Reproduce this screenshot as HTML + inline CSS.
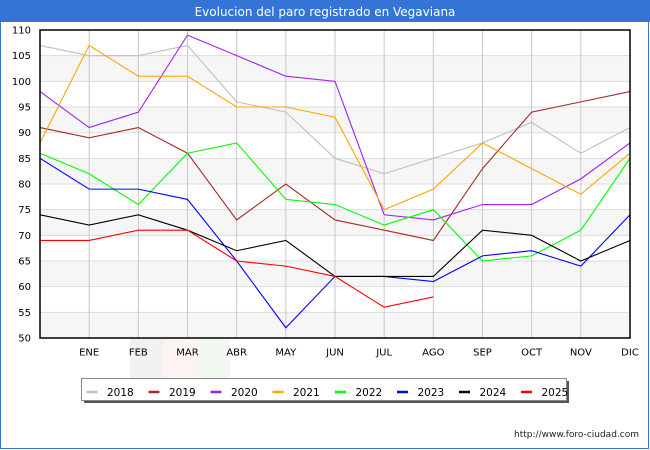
<!DOCTYPE html>
<html>
<head>
<meta charset="utf-8">
<style>
html,body{margin:0;padding:0;background:#fff;}
svg{display:block;}
text{font-family:"DejaVu Sans","Liberation Sans",sans-serif;}
</style>
</head>
<body>
<svg width="650" height="450" viewBox="0 0 650 450" xmlns="http://www.w3.org/2000/svg">
  <rect x="0" y="0" width="650" height="450" fill="#ffffff"/>
  <!-- frame -->
  <rect x="0.5" y="0.5" width="648" height="448" fill="none" stroke="#3474d6" stroke-width="1"/>
  <!-- title bar -->
  <rect x="0" y="0" width="650" height="22" fill="#3474d6"/>
  <text x="325" y="16" font-size="12" fill="#ffffff" text-anchor="middle">Evolucion del paro registrado en Vegaviana</text>

  <!-- watermark -->
  <rect x="130" y="338" width="33" height="40" fill="#f1f1f1"/>
  <rect x="163" y="338" width="34" height="40" fill="#fdf3f3"/>
  <rect x="197" y="338" width="33" height="40" fill="#f0f8f0"/>

  <!-- plot background bands -->
  <rect x="40" y="30" width="590" height="308" fill="#ffffff"/>
  <g fill="#f6f6f6">
    <rect x="40" y="55.67" width="590" height="25.67"/>
    <rect x="40" y="107" width="590" height="25.67"/>
    <rect x="40" y="158.33" width="590" height="25.67"/>
    <rect x="40" y="209.67" width="590" height="25.67"/>
    <rect x="40" y="261" width="590" height="25.67"/>
    <rect x="40" y="312.33" width="590" height="25.67"/>
  </g>
  <!-- horizontal grid -->
  <g stroke="#dcdcdc" stroke-width="1">
    <line x1="40" y1="55.67" x2="630" y2="55.67"/>
    <line x1="40" y1="81.33" x2="630" y2="81.33"/>
    <line x1="40" y1="107" x2="630" y2="107"/>
    <line x1="40" y1="132.67" x2="630" y2="132.67"/>
    <line x1="40" y1="158.33" x2="630" y2="158.33"/>
    <line x1="40" y1="184" x2="630" y2="184"/>
    <line x1="40" y1="209.67" x2="630" y2="209.67"/>
    <line x1="40" y1="235.33" x2="630" y2="235.33"/>
    <line x1="40" y1="261" x2="630" y2="261"/>
    <line x1="40" y1="286.67" x2="630" y2="286.67"/>
    <line x1="40" y1="312.33" x2="630" y2="312.33"/>
  </g>
  <!-- vertical grid -->
  <g stroke="#c8c8c8" stroke-width="1">
    <line x1="89.17" y1="30" x2="89.17" y2="338"/>
    <line x1="138.33" y1="30" x2="138.33" y2="338"/>
    <line x1="187.5" y1="30" x2="187.5" y2="338"/>
    <line x1="236.67" y1="30" x2="236.67" y2="338"/>
    <line x1="285.83" y1="30" x2="285.83" y2="338"/>
    <line x1="335" y1="30" x2="335" y2="338"/>
    <line x1="384.17" y1="30" x2="384.17" y2="338"/>
    <line x1="433.33" y1="30" x2="433.33" y2="338"/>
    <line x1="482.5" y1="30" x2="482.5" y2="338"/>
    <line x1="531.67" y1="30" x2="531.67" y2="338"/>
    <line x1="580.83" y1="30" x2="580.83" y2="338"/>
  </g>

  <!-- series -->
  <g fill="none" stroke-width="1.1" stroke-linejoin="miter">
    <polyline stroke="#c0c0c0" points="40,45.4 89.17,55.67 138.33,55.67 187.5,45.4 236.67,101.87 285.83,112.13 335,158.33 384.17,173.73 433.33,158.33 482.5,142.93 531.67,122.4 580.83,153.2 630,127.53"/>
    <polyline stroke="#a52a2a" points="40,127.53 89.17,137.8 138.33,127.53 187.5,153.2 236.67,219.93 285.83,184 335,219.93 384.17,230.2 433.33,240.47 482.5,168.6 531.67,112.13 580.83,101.87 630,91.6"/>
    <polyline stroke="#a020f0" points="40,91.6 89.17,127.53 138.33,112.13 187.5,35.13 236.67,55.67 285.83,76.2 335,81.33 384.17,214.8 433.33,219.93 482.5,204.53 531.67,204.53 580.83,178.87 630,142.93"/>
    <polyline stroke="#ffa500" points="40,142.93 89.17,45.4 138.33,76.2 187.5,76.2 236.67,107 285.83,107 335,117.27 384.17,209.67 433.33,189.13 482.5,142.93 531.67,168.6 580.83,194.27 630,153.2"/>
    <polyline stroke="#00ff00" points="40,153.2 89.17,173.73 138.33,204.53 187.5,153.2 236.67,142.93 285.83,199.4 335,204.53 384.17,225.07 433.33,209.67 482.5,261 531.67,255.87 580.83,230.2 630,158.33"/>
    <polyline stroke="#0000ff" points="40,158.33 89.17,189.13 138.33,189.13 187.5,199.4 236.67,261 285.83,327.73 335,276.4 384.17,276.4 433.33,281.53 482.5,255.87 531.67,250.73 580.83,266.13 630,214.8"/>
    <polyline stroke="#000000" points="40,214.8 89.17,225.07 138.33,214.8 187.5,230.2 236.67,250.73 285.83,240.47 335,276.4 384.17,276.4 433.33,276.4 482.5,230.2 531.67,235.33 580.83,261 630,240.47"/>
    <polyline stroke="#ff0000" points="40,240.47 89.17,240.47 138.33,230.2 187.5,230.2 236.67,261 285.83,266.13 335,276.4 384.17,307.2 433.33,296.93"/>
  </g>

  <!-- plot border -->
  <rect x="40" y="30" width="590" height="308" fill="none" stroke="#000000" stroke-width="1.5"/>

  <!-- y labels -->
  <g font-size="10" fill="#000" text-anchor="end">
    <text x="31" y="33.5">110</text>
    <text x="31" y="59.2">105</text>
    <text x="31" y="84.8">100</text>
    <text x="31" y="110.5">95</text>
    <text x="31" y="136.2">90</text>
    <text x="31" y="161.8">85</text>
    <text x="31" y="187.5">80</text>
    <text x="31" y="213.2">75</text>
    <text x="31" y="238.8">70</text>
    <text x="31" y="264.5">65</text>
    <text x="31" y="290.2">60</text>
    <text x="31" y="315.8">55</text>
    <text x="31" y="341.5">50</text>
  </g>
  <!-- x labels -->
  <g font-size="10" fill="#000" text-anchor="middle">
    <text x="89.17" y="355.5">ENE</text>
    <text x="138.33" y="355.5">FEB</text>
    <text x="187.5" y="355.5">MAR</text>
    <text x="236.67" y="355.5">ABR</text>
    <text x="285.83" y="355.5">MAY</text>
    <text x="335" y="355.5">JUN</text>
    <text x="384.17" y="355.5">JUL</text>
    <text x="433.33" y="355.5">AGO</text>
    <text x="482.5" y="355.5">SEP</text>
    <text x="531.67" y="355.5">OCT</text>
    <text x="580.83" y="355.5">NOV</text>
    <text x="630" y="355.5">DIC</text>
  </g>

  <!-- legend -->
  <rect x="84" y="381" width="485" height="22" fill="#555555"/>
  <rect x="81.5" y="378.5" width="485" height="22" fill="#ffffff" stroke="#888888" stroke-width="1"/>
  <g stroke-width="2.5">
    <line x1="86.5" y1="392" x2="97.5" y2="392" stroke="#c0c0c0"/>
    <line x1="148.5" y1="392" x2="159.5" y2="392" stroke="#a52a2a"/>
    <line x1="210.5" y1="392" x2="221.5" y2="392" stroke="#a020f0"/>
    <line x1="272.5" y1="392" x2="283.5" y2="392" stroke="#ffa500"/>
    <line x1="335" y1="392" x2="346" y2="392" stroke="#00ff00"/>
    <line x1="397" y1="392" x2="408" y2="392" stroke="#0000ff"/>
    <line x1="459" y1="392" x2="470" y2="392" stroke="#000000"/>
    <line x1="521" y1="392" x2="532" y2="392" stroke="#ff0000"/>
  </g>
  <g font-size="10.5" fill="#000">
    <text x="107" y="396">2018</text>
    <text x="169" y="396">2019</text>
    <text x="231" y="396">2020</text>
    <text x="293" y="396">2021</text>
    <text x="355.5" y="396">2022</text>
    <text x="417.5" y="396">2023</text>
    <text x="479.5" y="396">2024</text>
    <text x="541.5" y="396">2025</text>
  </g>

  <!-- footer -->
  <text x="639" y="437" font-size="9" fill="#222" text-anchor="end">http://www.foro-ciudad.com</text>
</svg>
</body>
</html>
